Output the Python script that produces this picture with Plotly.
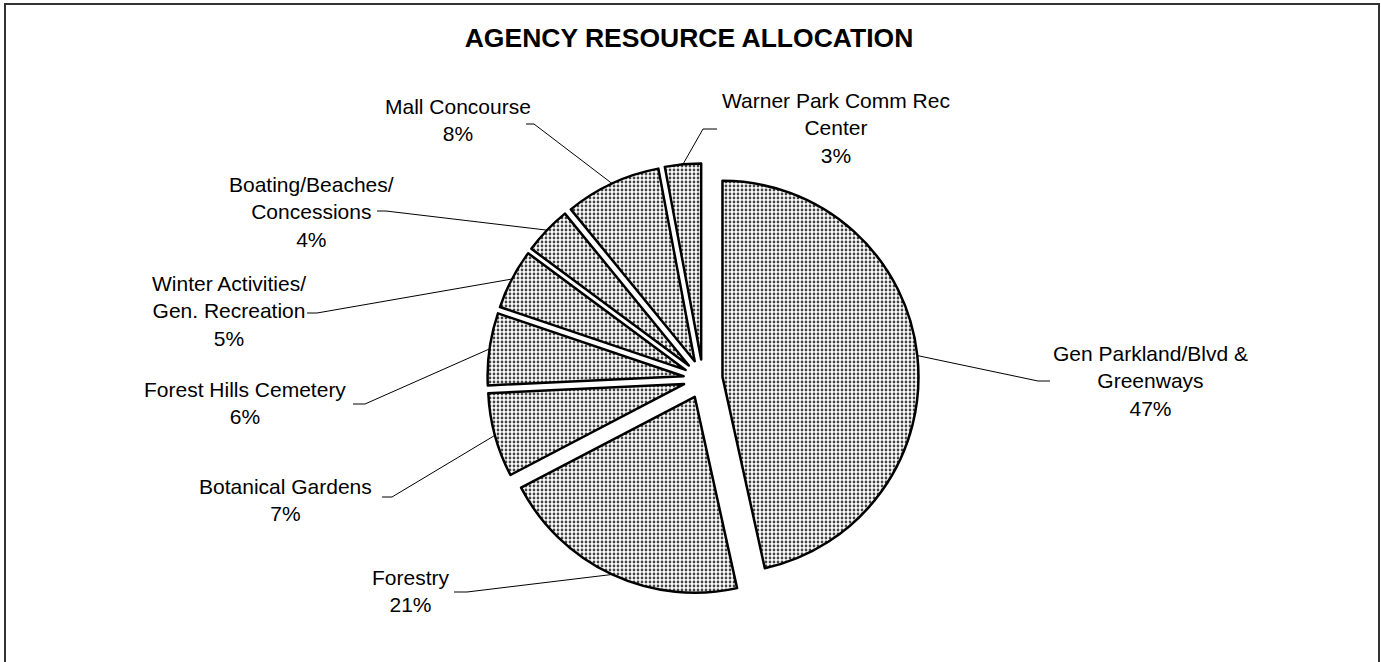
import math
import plotly.graph_objects as go

# ---- data ----
categories = ["Gen Parkland/Blvd & Greenways", "Forestry", "Botanical Gardens",
              "Forest Hills Cemetery", "Winter Activities/ Gen. Recreation",
              "Boating/Beaches/ Concessions", "Mall Concourse",
              "Warner Park Comm Rec Center"]
display_labels = ["Gen Parkland/Blvd &<br>Greenways", "Forestry", "Botanical Gardens",
                  "Forest Hills Cemetery", "Winter Activities/<br>Gen. Recreation",
                  "Boating/Beaches/<br>Concessions", "Mall Concourse",
                  "Warner Park Comm Rec<br>Center"]
percents = [47, 21, 7, 6, 5, 4, 8, 3]

# ---- layout constants (screen pixels) ----
W, H = 1381, 662
CX, CY = 703, 379          # pie centre
R = 196                    # pie radius
PULL = 0.10
half = R * (1 + PULL)

label_centers = [(1150, 381), (411, 591), (285, 500), (245, 403),
                 (229, 311), (311, 212), (458, 120), (836, 128)]
leader_elbows = [(1038, 381), (467, 592), (392, 497), (365, 404),
                 (317, 313), (386, 211), (534, 124), (703, 129)]
leader_tails = [(1050, 381), (454, 592), (382, 497), (353, 404),
                (307, 313), (377, 211), (526, 124), (717, 129)]


def px(x):
    return x / W


def py(y):
    return 1 - y / H


fig = go.Figure(go.Pie(
    labels=categories,
    values=percents,
    sort=False,
    direction="clockwise",
    rotation=0,
    pull=[PULL] * len(percents),
    textinfo="none",
    hoverinfo="label+percent",
    marker=dict(
        colors=["white"] * len(percents),
        line=dict(color="black", width=2.5),
        pattern=dict(shape=".", fgcolor="#444444", bgcolor="white",
                     size=4, solidity=0.38),
    ),
    domain=dict(x=[px(CX - half), px(CX + half)],
                y=[py(CY + half), py(CY - half)]),
    showlegend=False,
))

shapes = []
annotations = []
total = sum(percents)
cum = 0
for i, v in enumerate(percents):
    mid = (cum + v / 2) / total * 2 * math.pi
    cum += v
    sx = CX + (R + R * PULL) * math.sin(mid)
    sy = CY - (R + R * PULL) * math.cos(mid)
    ex, ey = leader_elbows[i]
    tx, ty = leader_tails[i]
    shapes.append(dict(type="path", xref="paper", yref="paper",
                       path=f"M {px(sx)},{py(sy)} L {px(ex)},{py(ey)} L {px(tx)},{py(ty)}",
                       line=dict(color="black", width=1)))
    lx, ly = label_centers[i]
    annotations.append(dict(
        x=px(lx), y=py(ly), xref="paper", yref="paper",
        text=f"{display_labels[i]}<br>{v}%", showarrow=False,
        xanchor="center", yanchor="middle", align="center",
        font=dict(family="Liberation Sans, Arial", size=21, color="black"),
    ))

# outer border
shapes.append(dict(type="rect", xref="paper", yref="paper",
                   x0=px(5), x1=px(1379), y0=py(700), y1=py(4),
                   line=dict(color="#333333", width=2)))

fig.update_layout(
    width=W, height=H,
    margin=dict(l=0, r=0, t=0, b=0),
    paper_bgcolor="white",
    plot_bgcolor="white",
    title=dict(text="<b>AGENCY RESOURCE ALLOCATION</b>",
               x=px(689), y=py(38), xanchor="center", yanchor="middle",
               font=dict(family="Liberation Sans, Arial", size=26.5, color="black")),
    shapes=shapes,
    annotations=annotations,
)

fig.write_html("out.html",
               config={"displayModeBar": False},
               post_script="document.body.style.margin='0';document.body.style.overflow='hidden';")
